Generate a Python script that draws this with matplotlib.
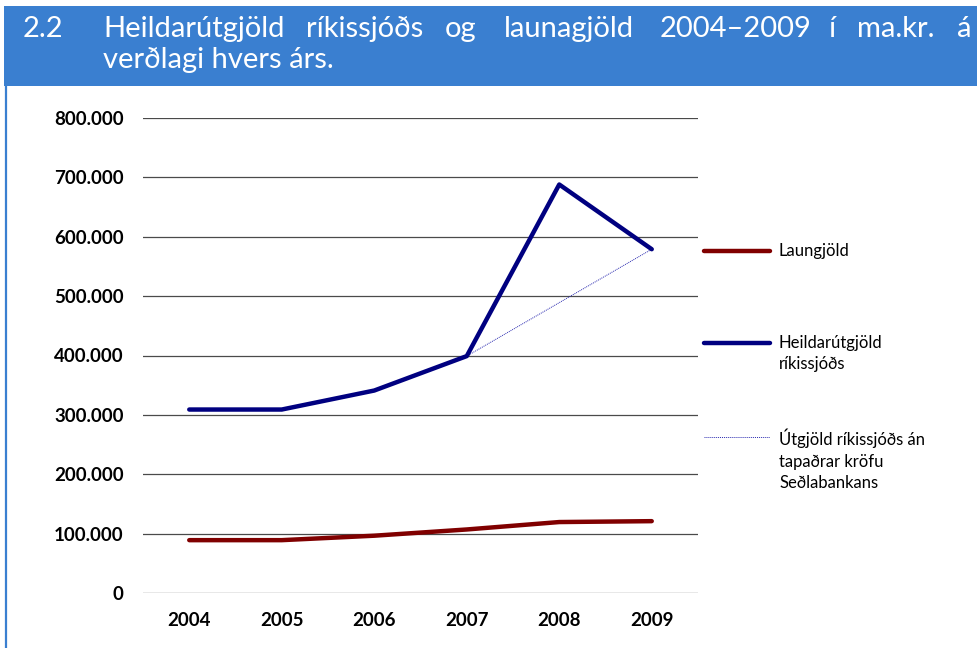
import numpy as np
import matplotlib.pyplot as plt
from matplotlib.lines import Line2D
from matplotlib.patches import Rectangle

plt.rcParams['font.family'] = ['Lato', 'DejaVu Sans']

years = ['2004', '2005', '2006', '2007', '2008', '2009']
laun = [89000, 89000, 96500, 107000, 119500, 121000]
heildar = [309000, 309000, 341000, 399000, 688000, 579000]
# utgjold an tapadrar krofu Sedlabankans: only 2007 and 2009 known
utgjold = [np.nan, np.nan, np.nan, 399000, np.nan, 579000]
yticks = [0, 100000, 200000, 300000, 400000, 500000, 600000, 700000, 800000]
ylabels = ['0', '100.000', '200.000', '300.000', '400.000', '500.000',
           '600.000', '700.000', '800.000']

title_words = [('2.2', 23), ('Heildarútgjöld', 103), ('ríkissjóðs', 306), ('og', 445),
               ('launagjöld', 504), ('2004–2009', 660), ('í', 829), ('ma.kr.', 857), ('á', 957)]
title_line2 = 'verðlagi hvers árs.'

W, H = 977, 648
fig = plt.figure(figsize=(W / 100, H / 100), dpi=100)

# blue header and left border
fig.add_artist(Rectangle((4 / W, 1 - 86 / H), 1, 80 / H, transform=fig.transFigure,
                         facecolor='#3A7FD0', edgecolor='none'))
fig.add_artist(Line2D([6 / W, 6 / W], [0, 1 - 86 / H], transform=fig.transFigure,
                      color='#3A7FD0', lw=1.6))
for w, x in title_words:
    fig.text(x / W, 1 - 37 / H, w, color='white', fontsize=21, va='baseline', ha='left')
fig.text(103 / W, 1 - 68 / H, title_line2, color='white', fontsize=21, va='baseline', ha='left')

ax = fig.add_axes([143 / W, 1 - 593 / H, 555 / W, 475 / H])
x = np.arange(len(years))
ax.plot(x, laun, color='#800000', lw=3.2, solid_capstyle='round', solid_joinstyle='round', zorder=3)
ax.plot(x, heildar, color='#000080', lw=3.2, solid_capstyle='round', solid_joinstyle='round', zorder=3)
u = np.array(utgjold)
m = ~np.isnan(u)
ax.plot(x[m], u[m], color='#2A2AB0', lw=0.7, ls=(0, (1, 1)), zorder=2)

ax.set_xlim(-0.5, 5.5)
ax.set_ylim(0, 800000)
ax.set_yticks(yticks)
ax.set_yticklabels(ylabels, fontweight='bold', fontsize=13.5)
ax.set_xticks(x)
ax.set_xticklabels(years, fontweight='bold', fontsize=13.5)
ax.tick_params(length=0)
ax.tick_params(axis='y', pad=14)
ax.tick_params(axis='x', pad=14)
for s in ax.spines.values():
    s.set_visible(False)
ax.grid(axis='y', color='#4a4a4a', lw=0.9)
ax.set_axisbelow(True)

# legend drawn by hand
leg = [('Laungjöld', '#800000', 251, 3.2, '-'),
       ('Heildarútgjöld\nríkissjóðs', '#000080', 343, 3.2, '-'),
       ('Útgjöld ríkissjóðs án\ntapaðrar kröfu\nSeðlabankans', '#2A2AB0', 437, 0.7, (0, (1, 1)))]
for lab, c, y, lw, ls in leg:
    fig.add_artist(Line2D([704 / W, 770 / W], [1 - y / H, 1 - y / H], transform=fig.transFigure,
                          color=c, lw=lw, ls=ls, solid_capstyle='round'))
    fig.text(779 / W, 1 - (y - 8) / H, lab, fontsize=12, va='top', ha='left', linespacing=1.4)

plt.savefig('out.png', dpi=100)
